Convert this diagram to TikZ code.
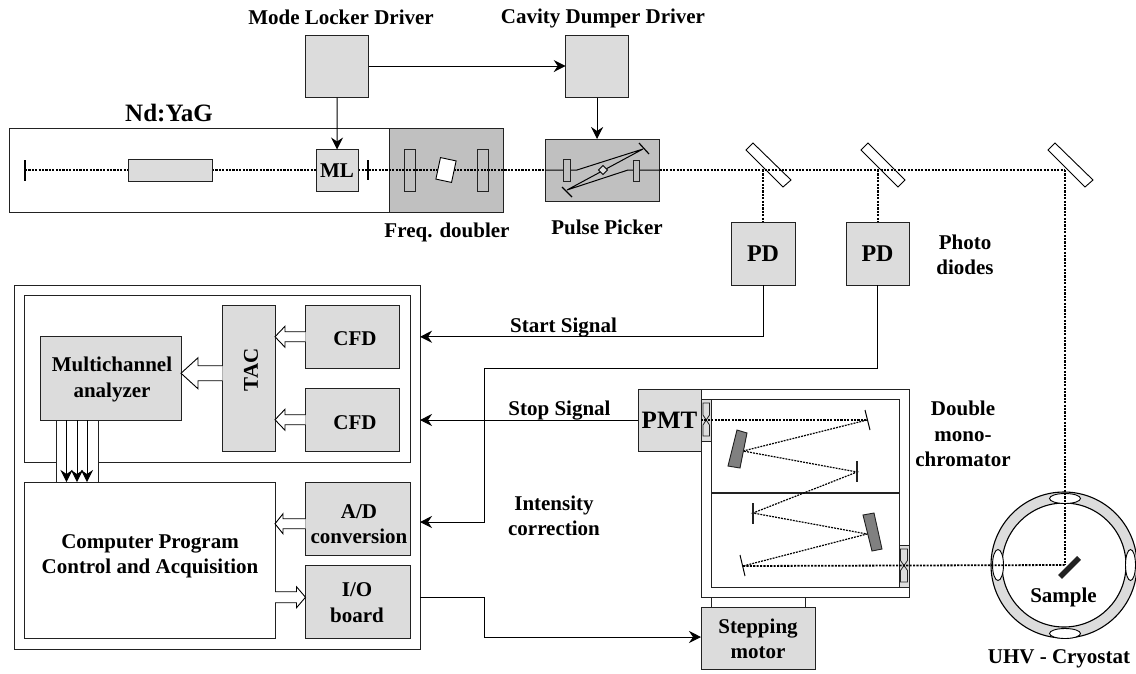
\documentclass[tikz,border=0pt]{standalone}
\usepackage{fontspec}
\setmainfont{Liberation Serif}
\usetikzlibrary{arrows.meta,calc}
\definecolor{boxgray}{HTML}{DCDCDC}
\definecolor{midgray}{HTML}{C0C0C0}
\definecolor{gratgray}{HTML}{808080}
\definecolor{ink}{HTML}{222222}
\tikzset{
  every node/.style={font=\fontsize{21}{25.5}\selectfont\bfseries,inner sep=0pt,outer sep=0pt,align=center,text=black},
  gbox/.style={draw=ink,line width=1pt,fill=boxgray},
  dbox/.style={draw=ink,line width=1pt,fill=midgray},
  wbox/.style={draw=ink,line width=1pt,fill=white},
  optic/.style={draw=black,line width=0.9pt,fill=white},
  sig/.style={draw=black,line width=1pt,-{Stealth[length=12pt,width=12pt,inset=4pt]}},
  plain/.style={draw=black,line width=1pt},
  beam/.style={draw=black,line width=1.8pt,dash pattern=on 2.1pt off 1.3pt},
  thinbeam/.style={draw=black,line width=1.2pt,dash pattern=on 1.9pt off 1.1pt},
  hollowarr/.style={draw=black,line width=0.9pt,fill=white,line join=miter},
  mirror/.style={draw=black,line width=1.2pt},
  bigtext/.style={font=\fontsize{25}{29}\selectfont\bfseries},
}
% name, x1, y1, x2, y2, style, text
\newcommand\bx[7]{\node[#6,minimum width={(#4-#2)*1pt},minimum height={(#5-#3)*1pt}] (#1) at ({(#2+#4)/2},{(#3+#5)/2}) {#7};}
% tail, tip, half shaft, signed head length, half head
\newcommand\hollow[5]{\draw[hollowarr] ($#1+(0,#3)$) -- ($#2+(#4,#3)$) -- ($#2+(#4,#5)$) -- #2 -- ($#2+(#4,-#5)$) -- ($#2+(#4,-#3)$) -- ($#1+(0,-#3)$);}
% slit at left x1,right x2, top y1, bottom y2, mid y
\newcommand\slit[5]{\path[fill=boxgray,draw=ink,line width=0.9pt] (#1,#3) rectangle (#2,#4);
  \draw[draw=ink,line width=0.8pt,fill=boxgray] ({#1+1.5},{#3+4}) -- ({#2-1.5},{#3+4}) -- ({#2-1.5},{#5-5}) -- ({#1+1.5},{#5+5}) -- ({#1+1.5},{#4-5}) -- ({#2-1.5},{#4-5}) -- ({#2-1.5},{#5+5}) -- ({#1+1.5},{#5-5}) -- cycle;}
\begin{document}
\begin{tikzpicture}[x=1pt,y=-1pt]
\useasboundingbox (0,0) rectangle (1136,673);
\fill[white] (0,0) rectangle (1136,673);

% ---------- laser table
\bx{yag}{9}{128}{389}{212}{wbox}{}
\bx{doubler}{389}{128}{503.5}{212}{dbox}{}
\bx{picker}{545}{139}{659.5}{201.5}{dbox}{}

% beam splitters
\draw[optic] (753,143) -- (746,150) -- (783,187) -- (791,180) -- cycle;
\draw[optic] (868,143) -- (861,150) -- (898,187) -- (905,180) -- cycle;
\draw[optic] (1055,143) -- (1048,150) -- (1085,187) -- (1093,180) -- cycle;

\bx{pda}{731}{222}{795}{285}{gbox}{\fontsize{24}{28}\selectfont PD}
\bx{pdb}{846}{222}{909}{285}{gbox}{\fontsize{24}{28}\selectfont PD}

\coordinate (mleft) at (25,170);
\coordinate (picka) at (545,170);
\coordinate (pickb) at (659.5,170);
\coordinate (spla) at (763,170);
\coordinate (splb) at (878,170);
\coordinate (splc) at (1065,170);
\coordinate (samplept) at (1065,565);

% dotted beam
\draw[beam] (mleft) -- (picka);
\draw[beam] (pickb) -- (splc);
\draw[beam] (spla) -- (pda.north -| spla);
\draw[beam] (splb) -- (pdb.north -| splb);

% laser elements
\draw[mirror] (25,160) -- (25,181);
\draw[mirror] (368,160) -- (368,180);
\bx{rod}{128.5}{159.5}{212.5}{181}{gbox}{}
\bx{ml}{316}{149.5}{358}{191.5}{gbox}{ML}
\node[optic,minimum width=16pt,minimum height=22pt,rotate=-12] (crystal) at (446,170) {};
\draw[draw=ink,line width=1pt] (404,149.5) rectangle (415,191);
\draw[draw=ink,line width=1pt] (477,149.5) rectangle (488,191);

% pulse picker internals
\draw[plain] (picka) -- (577,170) -- (643,149) -- (567,190) -- (628,170) -- (pickb);
\draw[mirror] (639,143) -- (649,154);
\draw[mirror] (562,187) -- (572,197);
\bx{pa}{563.5}{159.5}{570}{181}{dbox}{}
\bx{pb}{633}{160}{639.5}{181}{dbox}{}
\node[draw=black,line width=0.9pt,fill=boxgray,minimum width=6.5pt,minimum height=6.5pt,rotate=45] (diam) at (603,170) {};

% drivers
\bx{mld}{305.7}{35}{368.5}{97.5}{gbox}{}
\bx{cdd}{565.7}{35}{628.5}{97.5}{gbox}{}
\draw[sig] (mld) -- (ml);
\draw[sig] (cdd) -- (picker.north -| cdd);
\draw[sig] (mld.east |- 0,66) -- (cdd.west |- 0,66);

% ---------- electronics
\bx{outer}{14}{285}{420}{649}{wbox}{}
\bx{inner}{24.5}{295}{410}{462}{wbox}{}
\bx{mca}{40.5}{336.5}{181}{420}{gbox}{}
\node (lmca) at (112,379.5) {Multichannel\\analyzer};
\bx{tac}{222.5}{305.5}{275}{451}{gbox}{}
\node[rotate=90] (ltac) at (251,370) {TAC};
\bx{cfda}{305.5}{305.5}{399.5}{368}{gbox}{}
\bx{cfdb}{305.5}{388.5}{399.5}{451}{gbox}{}
\node (lcfda) at (355,339) {CFD};
\node (lcfdb) at (355,423) {CFD};
\bx{comp}{24.5}{482}{275}{638}{wbox}{}
\node (lcomp) at (150,556.5) {Computer Program\\Control and Acquisition};
\bx{adc}{305.5}{482.5}{410}{555}{gbox}{}
\node (ladc) at (359,524) {A/D\\conversion};
\bx{io}{305.5}{565.5}{410}{638}{gbox}{}
\node (lio) at (357,602.5) {I/O\\board};

\hollow{(cfda.west)}{(tac.east |- cfda.west)}{5}{10}{10.5}
\hollow{(cfdb.west)}{(tac.east |- cfdb.west)}{5}{10}{10.5}
\coordinate (mcaport) at ($(mca.east)+(0,-5)$);
\hollow{(tac.west |- mcaport)}{(mcaport)}{7.5}{17}{15.5}
\coordinate (adcport) at ($(adc.west)+(0,5)$);
\hollow{(adcport)}{(comp.east |- adcport)}{5}{8}{10}
\coordinate (ioport) at ($(io.west)+(0,-4.5)$);
\hollow{(comp.east |- ioport)}{(ioport)}{5.5}{-9}{10.5}

% bus
\draw[draw=ink,line width=1pt,fill=white] (56,420.6) rectangle (98,482);
\coordinate (busa) at (66.5,450);
\coordinate (busb) at (77,450);
\coordinate (busc) at (87,450);
\foreach \b in {busa,busb,busc}{
  \draw[sig] (mca.south -| \b) -- (comp.north -| \b);
}

% ---------- monochromator
\bx{mono}{701}{389}{909}{597}{wbox}{}
\bx{monoin}{711}{399}{899}{587}{wbox}{}
\coordinate (divl) at (711,493);
\coordinate (divr) at (899,493);
\draw[draw=ink,line width=1.3pt] (divl) -- (divr);
\bx{pmt}{638}{389}{701}{451}{gbox}{\fontsize{25}{29}\selectfont PMT}
\slit{701.5}{711}{399}{441}{420}
\bx{motormount}{711}{597}{805}{607}{wbox}{}
\bx{motor}{701}{607}{815.5}{669}{gbox}{}
\node (lmotor) at (758,639) {Stepping\\motor};

\coordinate (gra) at (743,451);
\coordinate (grb) at (867,534);
\coordinate (ma) at (867,420);
\coordinate (mb) at (857,472);
\coordinate (mc) at (753,513);
\coordinate (md) at (743,566);
\draw[thinbeam] (ma) -- (gra) -- (mb) -- (mc) -- (grb) -- (md);
\draw[beam] (pmt.east) -- (ma);
\draw[mirror,line width=1pt] (865,410) -- (870,430);
\draw[draw=ink,line width=1.2pt] (857,461) -- (857,482);
\draw[draw=ink,line width=1.2pt] (753,503) -- (753,524);
\draw[mirror,line width=1pt] (740,555) -- (745,576);
\draw[draw=ink,line width=0.9pt,fill=gratgray] (737,430) -- (747,433) -- (740,468) -- (728,466) -- cycle;
\draw[draw=ink,line width=0.9pt,fill=gratgray] (863,515) -- (874,513) -- (882,549) -- (872,551) -- cycle;

% ---------- cryostat
\draw[draw=black,line width=1.1pt,fill=boxgray] (1064,565) circle (73);
\draw[draw=black,line width=1.1pt,fill=white] (1064,565) circle (62);
\draw[optic] (1065,498.5) ellipse (15.5 and 5);
\draw[optic] (1065,633.5) ellipse (15.5 and 5);
\draw[optic] (998,565) ellipse (5.5 and 15.5);
\draw[optic] (1130.5,565) ellipse (5 and 15.5);

\slit{899}{909}{545}{587}{565.5}
\draw[beam] (md) -- (samplept);
\draw[beam] (splc) -- (samplept);
\draw[draw=ink,line width=5.5pt] (1060,577) -- (1079,558);

% ---------- signals
\draw[sig] (pda.south) |- (outer.east |- cfda);
\draw[sig] (pmt.west) -- (outer.east |- pmt);
\coordinate (knee) at (484,368);
\coordinate (intens) at (484,522);
\draw[sig] (pdb.south) |- (knee) -- (intens) -- (outer.east |- intens);
\coordinate (iokneeA) at (484,597);
\coordinate (iokneeB) at (484,637);
\draw[sig] (outer.east |- iokneeA) -- (iokneeA) -- (iokneeB) -- (motor.west |- iokneeB);

% ---------- labels
\node (lmld) at (341,17.5) {Mode Locker Driver};
\node (lcdd) at (603,18) {Cavity Dumper Driver};
\node[bigtext] (lyag) at (169,113) {Nd:YaG};
\node (lfreq) at (447,232) {Freq. doubler};
\node (lpick) at (607,227) {Pulse Picker};
\node (lphoto) at (965,255) {Photo\\diodes};
\node (lstart) at (563.5,328) {Start Signal};
\node (lstop) at (559.5,411) {Stop Signal};
\node (lint) at (554,516) {Intensity\\correction};
\node (lmono) at (963,434) {Double\\mono-\\chromator};
\node (lsample) at (1063.5,597) {Sample};
\node (luhv) at (1059,659) {UHV - Cryostat};
\end{tikzpicture}
\end{document}
